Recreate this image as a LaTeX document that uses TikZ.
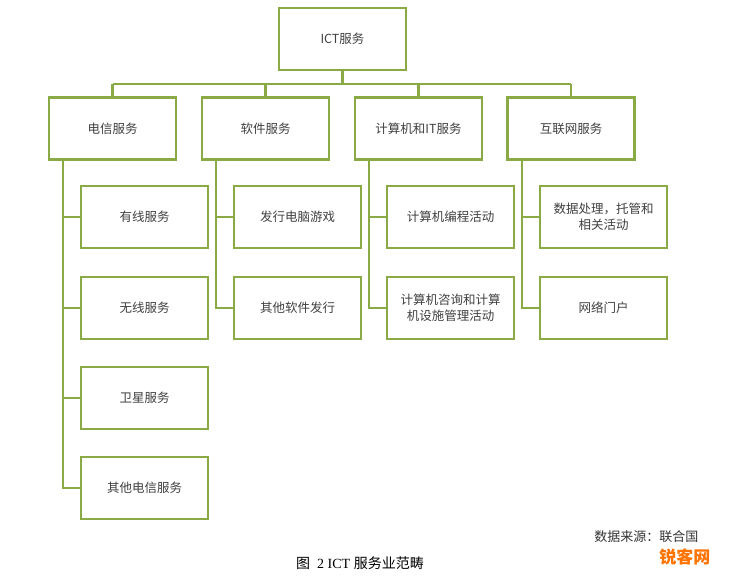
\documentclass[tikz,border=0pt]{standalone}
\usepackage{fontspec}
\setmainfont{Liberation Serif}
\newfontfamily\cjk{Noto Sans CJK SC}
\begin{document}
\begin{tikzpicture}[x=1pt,y=-1pt,
  bx/.style={draw=lg, line width=2.5pt, minimum width=127pt, minimum height=62pt, inner sep=0pt, font=\cjk\fontsize{12.5}{16}\selectfont, text=black!75, align=center, fill=white},
  ln/.style={draw=lg, line width=2.5pt}]
\definecolor{lg}{RGB}{137,170,68}
\useasboundingbox (0,0) rectangle (729,587);
\node[bx] (top) at (342.5,39) {ICT服务};
\node[bx] (a) at (112.5,128.5) {电信服务};
\node[bx] (b) at (265.5,128.5) {软件服务};
\node[bx] (c) at (418.5,128.5) {计算机和IT服务};
\node[bx] (d) at (571,128.5) {互联网服务};
\coordinate (bus) at (342.5,84);
\draw[ln] (top.south) -- (bus);
\foreach \p in {a,b,c,d}{\draw[ln] (\p.north) -- (\p.north |- bus);}
\draw[ln] (a.north |- bus) -- (d.north |- bus);
\node[bx] (a1) at (144.5,217) {有线服务};
\node[bx] (a2) at (144.5,308) {无线服务};
\node[bx] (a3) at (144.5,398) {卫星服务};
\node[bx] (a4) at (144.5,488) {其他电信服务};
\node[bx] (b1) at (297.5,217) {发行电脑游戏};
\node[bx] (b2) at (297.5,308) {其他软件发行};
\node[bx] (c1) at (450.5,217) {计算机编程活动};
\node[bx] (c2) at (450.5,308) {计算机咨询和计算\\机设施管理活动};
\node[bx] (d1) at (603.5,217) {数据处理，托管和\\相关活动};
\node[bx] (d2) at (603.5,308) {网络门户};
\coordinate (ta) at (63,160); \coordinate (tb) at (216,160);
\coordinate (tc) at (369,160); \coordinate (td) at (522,160);
\draw[ln] (ta) |- (a4.west);
\foreach \n in {a1,a2,a3}{\draw[ln] (ta |- \n.west) -- (\n.west);}
\draw[ln] (tb) |- (b2.west); \draw[ln] (tb |- b1.west) -- (b1.west);
\draw[ln] (tc) |- (c2.west); \draw[ln] (tc |- c1.west) -- (c1.west);
\draw[ln] (td) |- (d2.west); \draw[ln] (td |- d1.west) -- (d1.west);
\node[font=\cjk\fontsize{13}{15}\selectfont, text=black!80, anchor=east] (src) at (702,537) {数据来源：联合国};
\node[font=\fontsize{14}{16}\selectfont] (cap) at (360,563) {{\cjk 图}\ \ 2 ICT {\cjk 服务业范畴}};
\node[font=\cjk\bfseries\fontsize{17}{18}\selectfont, text=orange!90!red, anchor=east] (wm) at (714,557) {锐客网};
\end{tikzpicture}
\end{document}
